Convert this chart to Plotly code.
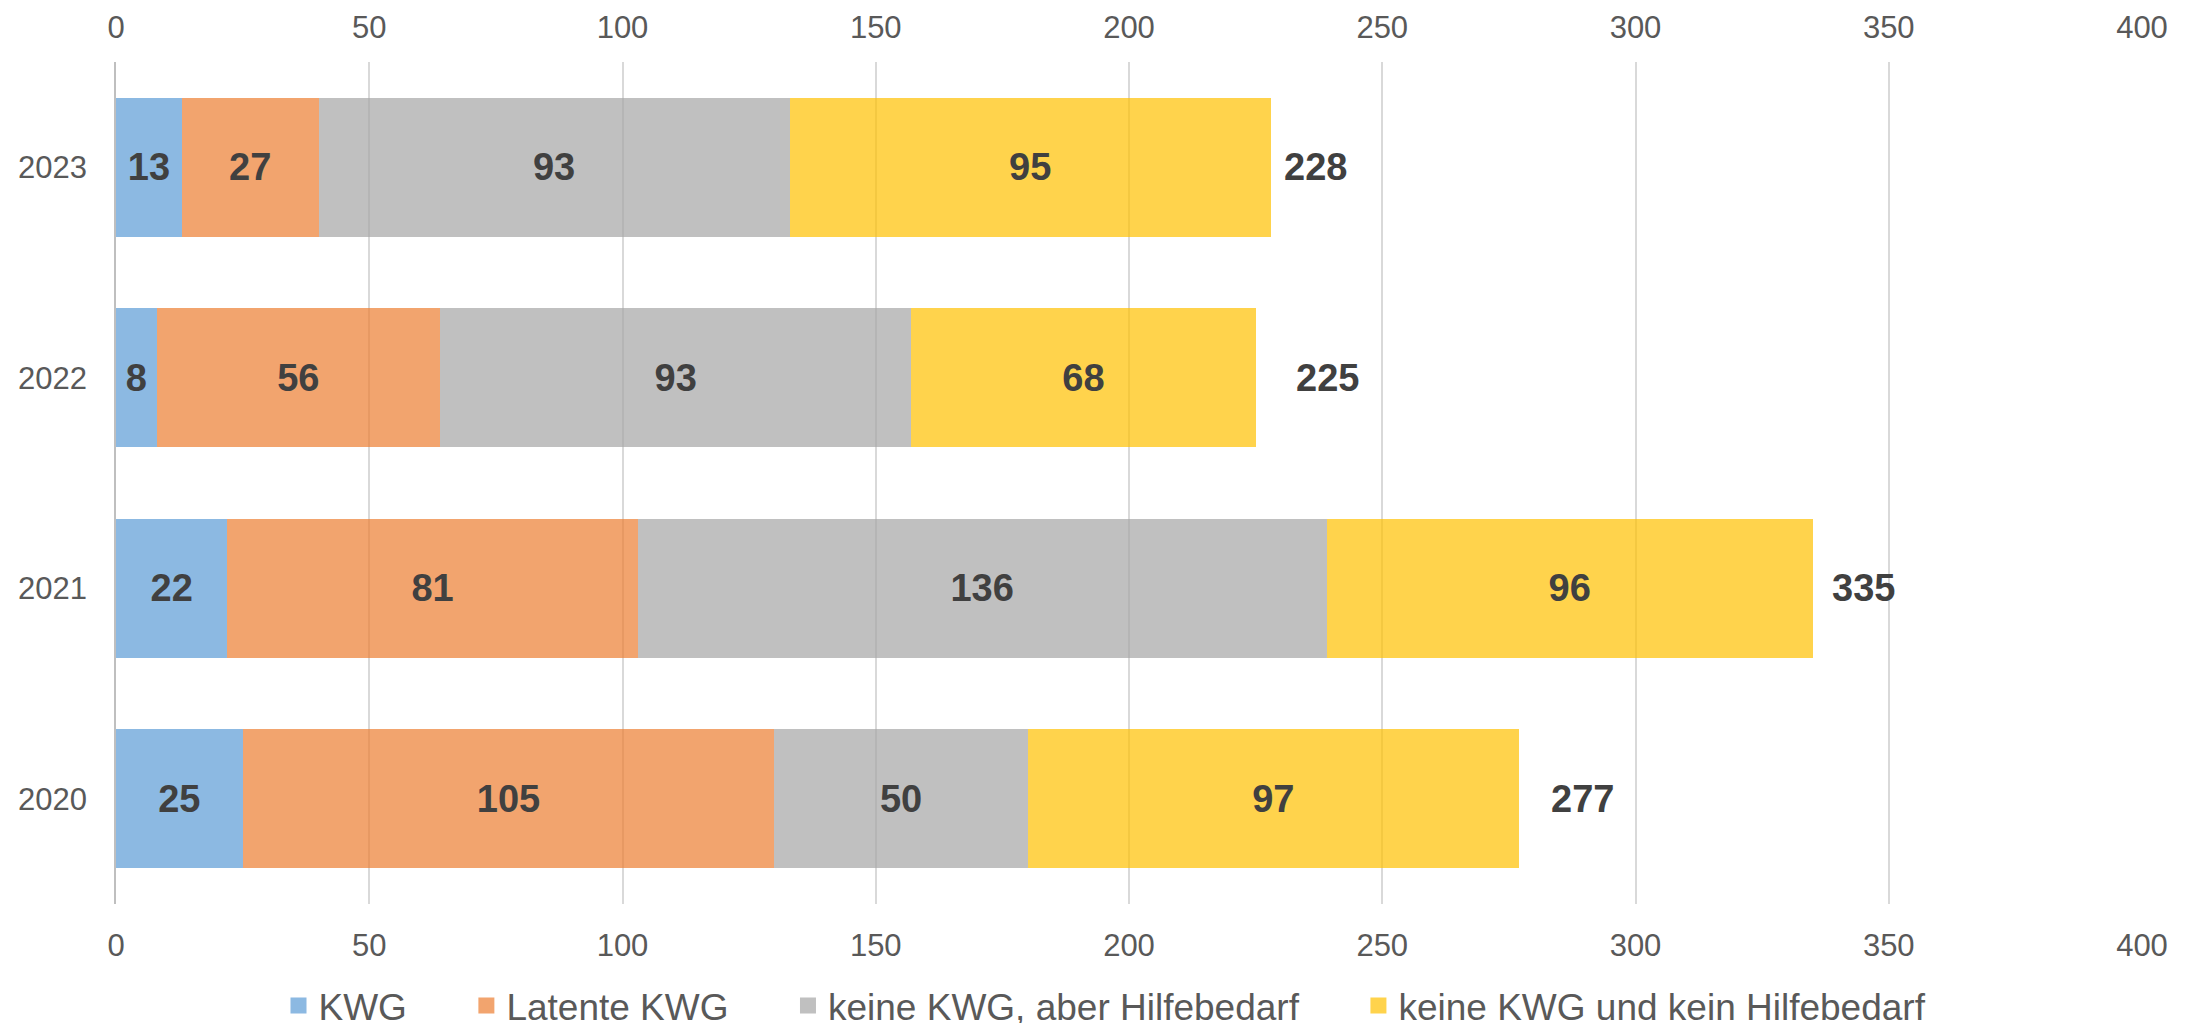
import plotly.graph_objects as go

years = ["2020", "2021", "2022", "2023"]
kwg = [25, 22, 8, 13]
latente = [105, 81, 56, 27]
keine_aber = [50, 136, 93, 93]
keine_kein = [97, 96, 68, 95]
series_names = ["KWG", "Latente KWG", "keine KWG, aber Hilfebedarf", "keine KWG und kein Hilfebedarf"]
x_ticks = [0, 50, 100, 150, 200, 250, 300, 350, 400]

colors = ["rgba(91,155,213,0.7)", "rgba(237,125,49,0.7)", "rgba(165,165,165,0.7)", "rgba(255,192,0,0.7)"]
FONT = "Arial, Liberation Sans, sans-serif"

totals = [a + b + c + d for a, b, c, d in zip(kwg, latente, keine_aber, keine_kein)]
label_shift = [30, 17, 38, 11]
legend_pad = "\u00a0" * 5 + "\u200a"

# the page body adds an 8px offset; the figure is sized to fit the window
FW, FH = 2191, 1015
L, R, T, B = 108, 57, 54, 119

fig = go.Figure()
for k, (name, vals, col) in enumerate(zip(series_names, [kwg, latente, keine_aber, keine_kein], colors)):
    fig.add_trace(go.Bar(
        y=years, x=vals, name=name, orientation="h", legendgroup=name, showlegend=False,
        marker=dict(color=col, line=dict(width=0)),
        text=[str(v) for v in vals], textposition="inside",
        insidetextanchor="middle", constraintext="none", textangle=0,
        textfont=dict(family=FONT, size=38, color="#404040", weight="bold"),
        hoverinfo="skip",
    ))
    # legend entry with a larger square symbol
    fig.add_trace(go.Scatter(
        x=[None], y=[None], mode="markers", legendgroup=name,
        name=name + (legend_pad if k < len(series_names) - 1 else ""),
        marker=dict(symbol="square", size=18, color=col), hoverinfo="skip",
    ))

# invisible helper trace so the top axis is drawn
fig.add_trace(go.Scatter(x=[x_ticks[0], x_ticks[-1]], y=[years[0], years[0]], xaxis="x2",
                         mode="markers", marker=dict(opacity=0), showlegend=False,
                         hoverinfo="skip"))

for i, (t, s) in enumerate(zip(totals, label_shift)):
    fig.add_annotation(x=t, y=i, text=str(t), showarrow=False, xanchor="left",
                       xshift=s, font=dict(family=FONT, size=38, color="#404040", weight="bold"))

tickfont = dict(family=FONT, size=31, color="#595959")
fig.update_layout(
    width=FW, height=FH,
    barmode="stack", bargap=0.34,
    plot_bgcolor="white", paper_bgcolor="white",
    margin=dict(l=L, r=R, t=T, b=B, autoexpand=False),
    xaxis=dict(range=[0, 400], tickvals=x_ticks, showgrid=True, gridcolor="#D9D9D9",
               gridwidth=1.5, zeroline=False, showline=False, side="bottom", ticks="",
               ticklabelstandoff=20, tickfont=tickfont, automargin=False),
    xaxis2=dict(range=[0, 400], tickvals=x_ticks, overlaying="x", side="top", anchor="y",
                showgrid=False, zeroline=False, showline=False, ticks="", ticklabelstandoff=17,
                tickfont=tickfont, automargin=False),
    yaxis=dict(type="category", categoryorder="array", categoryarray=years,
               range=[-0.5, len(years) - 0.5], autorange=False,
               showline=True, linecolor="#BFBFBF", linewidth=1.5, showgrid=False,
               ticks="", ticklabelstandoff=21, tickfont=tickfont, automargin=False),
    legend=dict(orientation="h", xref="container", yref="container",
                x=1097 / FW, y=1 - 998 / FH, xanchor="center", yanchor="middle",
                font=dict(family=FONT, size=37, color="#595959"), traceorder="normal"),
    showlegend=True,
)

fig.write_html("out.html")
